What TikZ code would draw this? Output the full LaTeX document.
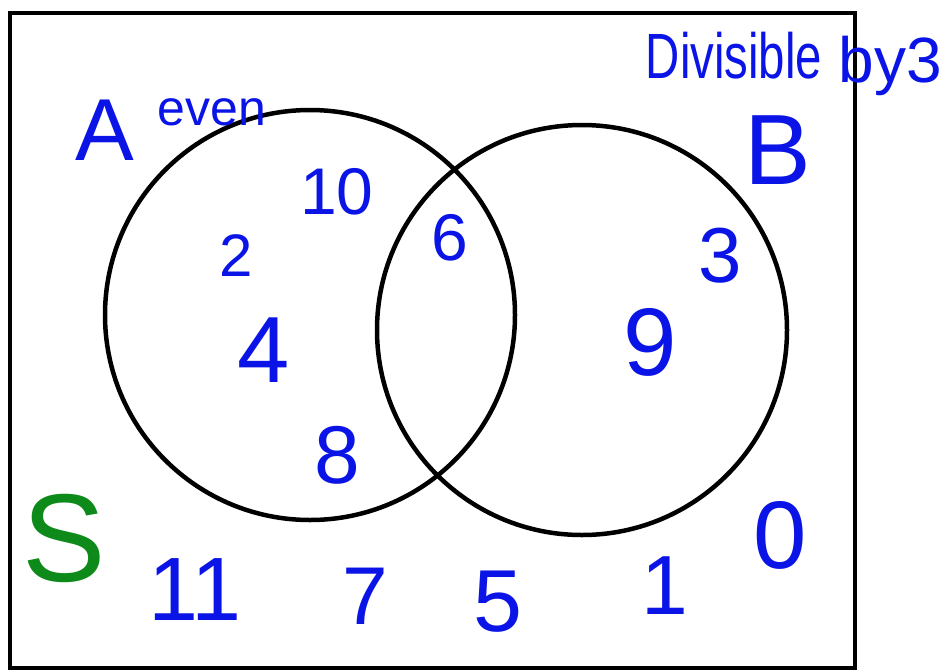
\documentclass[tikz,border=0pt]{standalone}
\usepackage{fontspec}
\setmainfont{Liberation Sans}
\usetikzlibrary{positioning}
\definecolor{penblue}{HTML}{0A14E6}
\definecolor{pengreen}{HTML}{0E8A1A}

\tikzset{
  setcirc/.style={circle, draw=black, line width=4.5pt, minimum size=410pt, inner sep=0pt},
  elem/.style={text=penblue, inner sep=0pt},
  lbl/.style={text=penblue, inner sep=0pt}
}
\newcommand{\fsz}[1]{\fontsize{#1}{#1}\selectfont}

\begin{document}
\begin{tikzpicture}[x=1pt, y=-1pt]
  \useasboundingbox (0,0) rectangle (950,670);
  % universal set
  \draw[line width=4.5pt] (10,13) rectangle (855,668);
  % the two sets
  \node[setcirc] (setA) at (310,315) {};
  \node[setcirc] (setB) at (582,330) {};
  % labels
  \node[lbl, font=\fsz{88}] (labA) at (105,130) {A};
  \node[lbl, font=\fsz{50}] (labeven) at (212,112) {even};
  \node[lbl, font=\fsz{64}, xscale=0.74] (labdiv) at (734,56) {Divisible};
  \node[lbl, font=\fsz{64}] (labby) at (890,66) {by3};
  \node[lbl, font=\fsz{100}] (labB) at (778,150) {B};
  \node[text=pengreen, inner sep=0pt, font=\fsz{125}] (labS) at (64,538) {S};
  % elements of A only
  \node[elem, font=\fsz{66}] (n10) at (337,192) {10};
  \node[elem, font=\fsz{60}] (n2) at (236,256) {2};
  \node[elem, font=\fsz{94}] (n4) at (264,350) {4};
  \node[elem, font=\fsz{82}] (n8) at (337,455) {8};
  % A and B
  \node[elem, font=\fsz{66}] (n6) at (450,238) {6};
  % B only
  \node[elem, font=\fsz{78}] (n3) at (720,256) {3};
  \node[elem, font=\fsz{96}] (n9) at (650,342) {9};
  % outside
  \node[elem, font=\fsz{96}] (n0) at (780,535) {0};
  \node[elem, font=\fsz{90}] (n11) at (195,590) {11};
  \node[elem, font=\fsz{82}] (n7) at (365,596) {7};
  \node[elem, font=\fsz{88}] (n5) at (498,602) {5};
  \node[elem, font=\fsz{84}] (n1) at (665,586) {1};
\end{tikzpicture}
\end{document}
